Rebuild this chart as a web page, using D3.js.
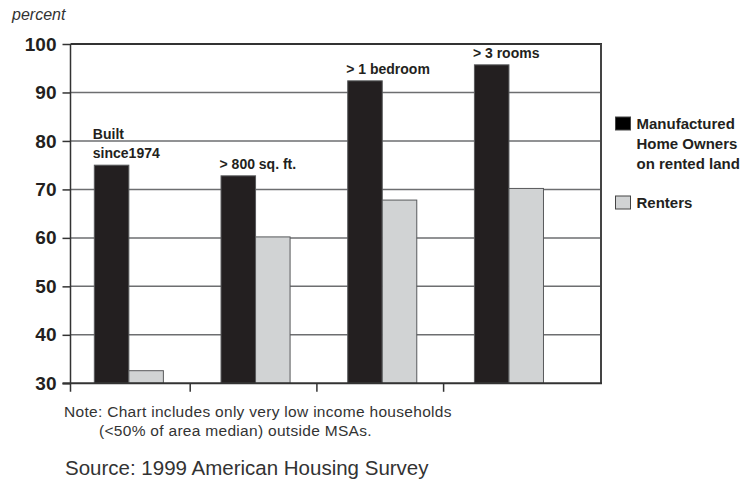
<!DOCTYPE html>
<html>
<head>
<meta charset="UTF-8">
<title>Manufactured home owners vs renters</title>
<script src="https://d3js.org/d3.v7.min.js"></script>
<style>
  body { margin: 0; background: #fff; }
  text { fill: #231f20; }
  .cond { font-family: "Liberation Sans", Arial, sans-serif; font-weight: bold; }
  .plain { font-family: "Liberation Sans", Arial, sans-serif; fill: #333; }
</style>
</head>
<body>
<div id="chart"></div>
<script>
// data
var categories = ["Built since1974", "> 800 sq. ft.", "> 1 bedroom", "> 3 rooms"];
var catLabels = [["Built", "since1974"], ["> 800 sq. ft."], ["> 1 bedroom"], ["> 3 rooms"]];
var seriesNames = ["Manufactured Home Owners on rented land", "Renters"];
var legendLines = [["Manufactured", "Home Owners", "on rented land"], ["Renters"]];
var owners = [75, 72.8, 92.4, 95.7];
var renters = [32.6, 60.2, 67.8, 70.2];
var yTicks = [30, 40, 50, 60, 70, 80, 90, 100];

var colors = ["#231f20", "#d1d3d4"];

var width = 752, height = 484;
var plot = {left: 70.5, right: 601, top: 44, bottom: 383.3};

var svg = d3.select("#chart").append("svg")
    .attr("width", width)
    .attr("height", height);

var x = d3.scaleBand()
    .domain(categories)
    .range([65.5, 572.3])
    .paddingInner(0.455)
    .paddingOuter(0.2275);

var xs = d3.scaleBand()
    .domain(seriesNames)
    .range([0, x.bandwidth()]);

var y = d3.scaleLinear()
    .domain([30, 100])
    .range([plot.bottom, plot.top]);

// gridlines
svg.append("g")
  .selectAll("line")
  .data(yTicks.filter(function(d) { return d > 30 && d < 100; }))
  .enter().append("line")
    .attr("x1", plot.left).attr("x2", plot.right)
    .attr("y1", function(d) { return y(d); })
    .attr("y2", function(d) { return y(d); })
    .attr("stroke", "#6d6e70")
    .attr("stroke-width", 1.5);

// top + right frame
svg.append("line")
    .attr("x1", plot.left).attr("x2", plot.right + 1)
    .attr("y1", y(100)).attr("y2", y(100))
    .attr("stroke", "#333").attr("stroke-width", 2);
svg.append("line")
    .attr("x1", plot.right).attr("x2", plot.right)
    .attr("y1", y(100)).attr("y2", plot.bottom)
    .attr("stroke", "#444").attr("stroke-width", 2);

// bars
var rows = categories.map(function(c, i) {
  return {cat: c, values: [owners[i], renters[i]]};
});
var groups = svg.append("g").selectAll("g")
  .data(rows)
  .enter().append("g")
    .attr("transform", function(d) { return "translate(" + x(d.cat) + ",0)"; });
groups.selectAll("rect")
  .data(function(d) { return d.values.map(function(v, j) { return {s: seriesNames[j], v: v, j: j}; }); })
  .enter().append("rect")
    .attr("x", function(d) { return xs(d.s); })
    .attr("y", function(d) { return y(d.v); })
    .attr("width", xs.bandwidth())
    .attr("height", function(d) { return y(30) - y(d.v); })
    .attr("fill", function(d) { return colors[d.j]; })
    .attr("stroke", "#58595b")
    .attr("stroke-width", 1);

// category labels above the owners bar
groups.each(function(d, i) {
  var lines = catLabels[i];
  var t = d3.select(this).append("text")
      .attr("class", "cond")
      .attr("font-size", 14)
      .attr("x", -1.5)
      .attr("y", y(owners[i]) - 7 - (lines.length - 1) * 19);
  lines.forEach(function(l, k) {
    t.append("tspan").attr("x", -1.5).attr("dy", k ? 19 : 0).text(l);
  });
});

// y axis
var yAxis = svg.append("g")
    .attr("transform", "translate(" + plot.left + ",0)")
    .call(d3.axisLeft(y).tickValues(yTicks).tickSize(8).tickPadding(6));
yAxis.select(".domain").remove();
yAxis.selectAll(".tick line").attr("stroke", "#333").attr("stroke-width", 1.5);
yAxis.selectAll(".tick text")
    .attr("font-family", "'Liberation Sans', Arial, sans-serif")
    .attr("font-weight", "bold")
    .attr("font-size", 19)
    .attr("fill", "#231f20");
svg.append("line")
    .attr("x1", plot.left).attr("x2", plot.left)
    .attr("y1", plot.top).attr("y2", plot.bottom + 8.5)
    .attr("stroke", "#333").attr("stroke-width", 1.5);

// x axis line + separators between categories
svg.append("line")
    .attr("x1", plot.left - 8).attr("x2", plot.right + 1)
    .attr("y1", plot.bottom).attr("y2", plot.bottom)
    .attr("stroke", "#333").attr("stroke-width", 2);
svg.append("g").selectAll("line")
  .data(categories.slice(0, -1))
  .enter().append("line")
    .attr("x1", function(d) { return x(d) + x.bandwidth() + x.step() * x.paddingInner() / 2 - 2; })
    .attr("x2", function(d) { return x(d) + x.bandwidth() + x.step() * x.paddingInner() / 2 - 2; })
    .attr("y1", plot.bottom).attr("y2", plot.bottom + 8.5)
    .attr("stroke", "#333").attr("stroke-width", 1.5);

// legend
var legend = svg.append("g").attr("transform", "translate(615.5,0)");
var legendY = [117, 196];
legendLines.forEach(function(lines, j) {
  legend.append("rect")
      .attr("x", 0).attr("y", legendY[j])
      .attr("width", 15).attr("height", 13)
      .attr("fill", j === 0 ? "#000" : colors[1])
      .attr("stroke", "#444").attr("stroke-width", 1);
  var t = legend.append("text")
      .attr("class", "cond")
      .attr("font-size", 15)
      .attr("x", 21)
      .attr("y", legendY[j] + 12);
  lines.forEach(function(l, k) {
    t.append("tspan").attr("x", 21).attr("dy", k ? 20 : 0).text(l);
  });
});

// y unit label
svg.append("text")
    .attr("class", "plain")
    .attr("x", 12).attr("y", 20)
    .attr("font-size", 16)
    .attr("font-style", "italic")
    .text("percent");

// note + source
svg.append("text").attr("class", "plain")
    .attr("x", 64).attr("y", 416.5)
    .attr("font-size", 15.5)
    .attr("letter-spacing", 0.3)
    .text("Note: Chart includes only very low income households");
svg.append("text").attr("class", "plain")
    .attr("x", 99).attr("y", 435.5)
    .attr("font-size", 15.5)
    .attr("letter-spacing", 0.3)
    .text("(<50% of area median) outside MSAs.");
svg.append("text").attr("class", "plain")
    .attr("x", 65).attr("y", 475)
    .attr("font-size", 20.5)
    .text("Source: 1999 American Housing Survey");
</script>
</body>
</html>
